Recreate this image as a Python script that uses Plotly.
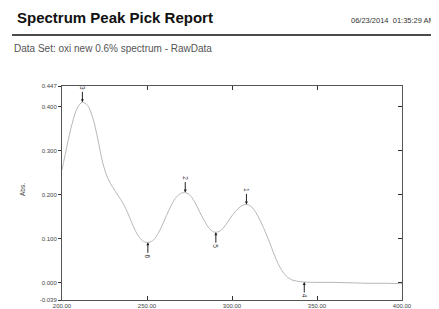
import plotly.graph_objects as go

wavelength = [200, 203, 206, 209, 212, 215, 218, 221, 224, 227, 230, 233, 236, 239, 242, 245, 248, 251,
              254, 257, 260, 263, 266, 269, 272, 275, 278, 281, 284, 287, 290, 293, 296, 299, 302, 305,
              308, 311, 314, 317, 320, 323, 326, 329, 332, 335, 338, 342, 350, 360, 370, 380, 390, 400]
absorbance = [0.256, 0.312, 0.362, 0.397, 0.410, 0.403, 0.376, 0.328, 0.272, 0.237, 0.216, 0.198, 0.180,
              0.156, 0.128, 0.106, 0.094, 0.092, 0.098, 0.115, 0.140, 0.166, 0.188, 0.201, 0.205, 0.200,
              0.184, 0.161, 0.139, 0.122, 0.115, 0.118, 0.130, 0.147, 0.162, 0.173, 0.178, 0.174, 0.160,
              0.138, 0.112, 0.083, 0.053, 0.030, 0.015, 0.007, 0.004, 0.002, 0.001, 0.001, 0.000,
              -0.001, -0.001, -0.002]

peak_labels = ["1", "2", "3", "4", "5", "6"]
peak_x = [308.5, 272.5, 212.0, 342.5, 290.5, 250.5]
peak_y = [0.178, 0.205, 0.410, 0.002, 0.115, 0.092]
peak_is_max = [True, True, True, False, False, False]

x_ticks = [200, 250, 300, 350, 400]
x_tick_text = ["200.00", "250.00", "300.00", "350.00", "400.00"]
y_ticks = [-0.039, 0.0, 0.1, 0.2, 0.3, 0.4, 0.447]
y_tick_text = ["-0.039", "0.000", "0.100", "0.200", "0.300", "0.400", "0.447"]

OFF = 8
W, H = 439 - OFF, 309 - OFF
L, R, T, B = 62 - OFF, 439 - 402, 86 - OFF, 309 - 300
pw, ph = W - L - R, H - T - B


def px(x):
    return (x - OFF - L) / pw


def py(y):
    return (H - B - (y - OFF)) / ph


fig = go.Figure()
fig.add_trace(go.Scatter(x=wavelength, y=absorbance, mode="lines",
                         line=dict(color="#b8b8b8", width=1, shape="spline"),
                         hoverinfo="skip", showlegend=False))
fig.add_trace(go.Scatter(x=wavelength, y=absorbance, mode="lines", yaxis="y2",
                         line=dict(color="rgba(0,0,0,0)", width=0),
                         hoverinfo="skip", showlegend=False))

font = "Liberation Sans, Arial, sans-serif"
annotations = []
for lab, x, y, ismax in zip(peak_labels, peak_x, peak_y, peak_is_max):
    annotations.append(dict(x=x, y=y, xref="x", yref="y", text=lab, showarrow=True,
                            ax=0, ay=-14 if ismax else 14, arrowhead=2, arrowsize=0.6,
                            arrowwidth=1, arrowcolor="#222", textangle=90,
                            font=dict(size=6.5, color="#333", family=font)))

annotations += [
    dict(x=px(15), y=py(18), xref="paper", yref="paper", xanchor="left", yanchor="middle",
         text="<b>Spectrum Peak Pick Report</b>", showarrow=False,
         font=dict(size=15, color="#111", family=font)),
    dict(x=px(349), y=py(21), xref="paper", yref="paper", xanchor="left", yanchor="middle",
         text="06/23/2014  01:35:29 AM", showarrow=False,
         font=dict(size=7.5, color="#333", family=font)),
    dict(x=px(12), y=py(49), xref="paper", yref="paper", xanchor="left", yanchor="middle",
         text="Data Set: oxi new 0.6% spectrum - RawData", showarrow=False,
         font=dict(size=10, color="#555", family=font)),
    dict(x=px(22), y=py(190), xref="paper", yref="paper", xanchor="center", yanchor="middle",
         text="Abs.", textangle=-90, showarrow=False,
         font=dict(size=6.5, color="#444", family=font)),
]

fig.update_layout(
    width=W, height=H,
    margin=dict(l=L, r=R, t=T, b=B, autoexpand=False),
    paper_bgcolor="white", plot_bgcolor="white",
    showlegend=False,
    annotations=annotations,
    shapes=[dict(type="line", xref="paper", yref="paper", x0=px(12), x1=px(439),
                 y0=py(35), y1=py(35), line=dict(color="#111", width=1.5))],
    xaxis=dict(range=[200, 400], tickvals=x_ticks, ticktext=x_tick_text,
               ticks="inside", ticklen=4, tickcolor="#333", mirror="ticks",
               showline=True, linecolor="#555", linewidth=1, showgrid=False, zeroline=False,
               tickfont=dict(size=6, color="#444", family=font), automargin=False),
    yaxis=dict(range=[-0.039, 0.447], tickvals=y_ticks, ticktext=y_tick_text,
               ticks="outside", ticklen=3, tickcolor="#333",
               showline=True, linecolor="#555", linewidth=1, showgrid=False, zeroline=False,
               tickfont=dict(size=6, color="#444", family=font), automargin=False),
    yaxis2=dict(range=[-0.039, 0.447], tickvals=y_ticks, overlaying="y", side="right",
                ticks="inside", ticklen=4, tickcolor="#333", showticklabels=False,
                showline=True, linecolor="#555", linewidth=1, showgrid=False, zeroline=False,
                automargin=False),
)

fig.write_html("out.html")
